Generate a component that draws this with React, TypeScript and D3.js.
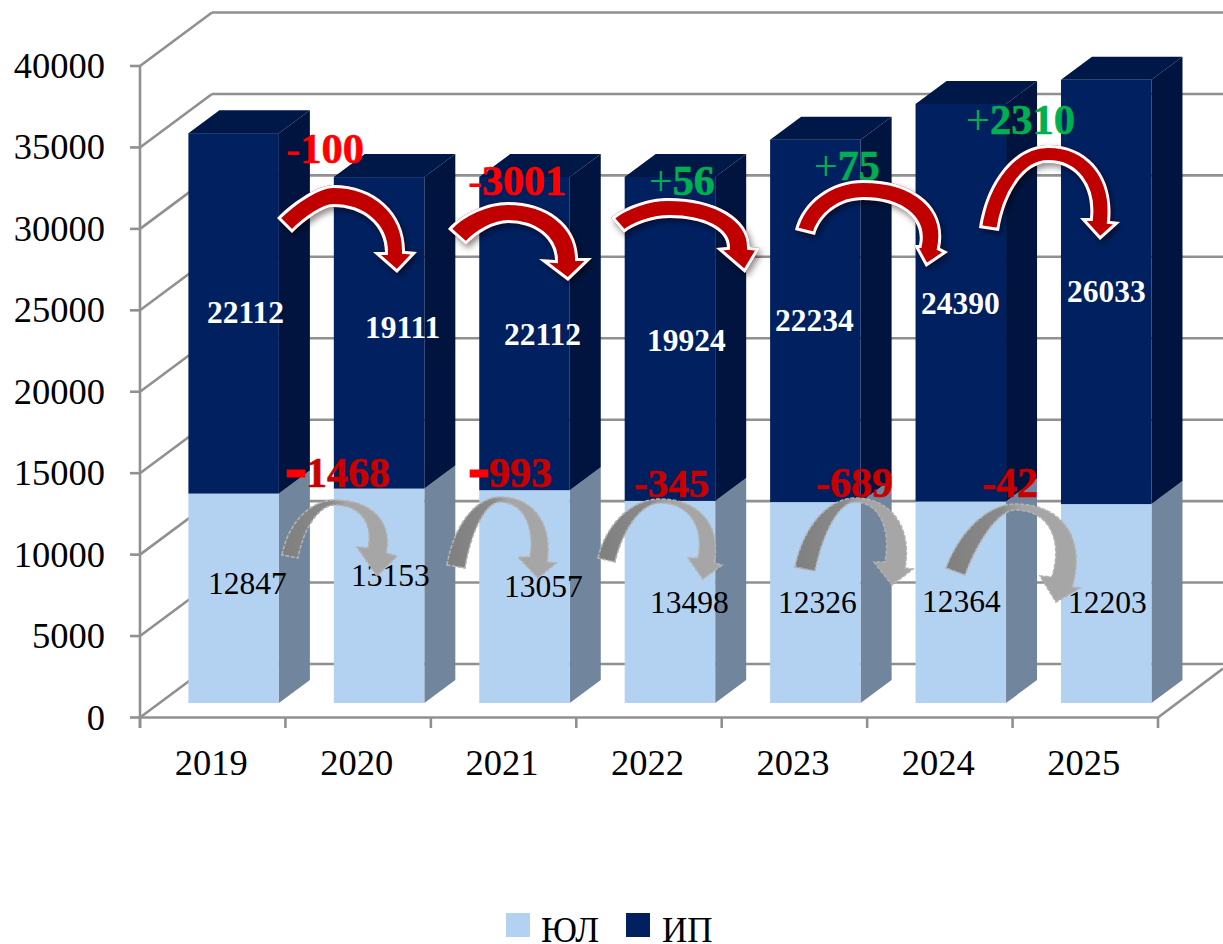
import React from 'react';
import * as d3 from 'd3';

// ---------- data ----------
const years = ['2019', '2020', '2021', '2022', '2023', '2024', '2025'];
const yulValues = [12847, 13153, 13057, 12400, 12326, 12364, 12203];
const ipValues = [22112, 19111, 19213, 19870, 22234, 24390, 26033];
const yulLabels = ['12847', '13153', '13057', '13498', '12326', '12364', '12203'];
const ipLabels = ['22112', '19111', '22112', '19924', '22234', '24390', '26033'];
const yTicks = [0, 5000, 10000, 15000, 20000, 25000, 30000, 35000, 40000];
const ipChanges = ['-100', '-3001', '+56', '+75', '+2310'];
const yulChanges = ['-1468', '-993', '-345', '-689', '-42'];
const legendNames = ['ЮЛ', 'ИП'];

// ---------- layout ----------
const W = 1223;
const H = 944;
const SERIF = '"Liberation Serif", "Times New Roman", serif';
const axisLeft = 140;
const axisRight = 1158;
const wallDx = 72;
const wallDy = -53.5;
const barInset = 48.4;
const barWidth = 90.5;
const depthDx = 31;
const depthDy = -23;

const C = {
  grid: '#909090',
  lightFront: '#b3d1f0',
  lightSide: '#71859c',
  darkFront: '#002060',
  darkSide: '#00143f',
  darkTop: '#001848',
};

const yAxis = d3.scaleLinear().domain([0, 40000]).range([717.5, 66]);
const yBar = d3.scaleLinear().domain([0, 40000]).range([703, 51]);
const xBand = d3.scaleBand<string>().domain(years).range([axisLeft, axisRight]);

// text placement: [left x, baseline y]
const ipLabelPos = [[207, 323], [365, 338], [504, 345], [647, 351], [775, 331], [921, 314], [1067, 302]];
const yulLabelPos = [[208, 594], [351, 586], [504, 597], [650, 613], [778, 613], [922, 612], [1068, 613]];
const ipChangePos = [[286, 163, 42.5], [468, 195, 42], [649, 195, 42], [814, 180, 42], [966, 134, 42.5]];
const yulChangePos = [[286, 487, 42, 60], [469, 487, 42, 60], [634, 497, 41, 41], [816, 497, 42, 42], [982, 497, 42, 42]];

// ---------- curved arrows (annotation shapes) ----------
type P = [number, number];
type Arrow = { tail: [P, P]; apex: [P, P]; end: [P, P]; wings: [P, P]; tip: P };

const redArrows: Arrow[] = [
  { tail: [[277, 218], [292, 233]], apex: [[333, 185], [333, 207]], end: [[405, 251], [385, 252]], wings: [[373, 252], [417, 252]], tip: [397, 273] },
  { tail: [[448, 229], [466, 245]], apex: [[508, 202], [508, 223]], end: [[578, 258], [555, 260]], wings: [[539, 259], [592, 258]], tip: [568, 281] },
  { tail: [[611, 218], [624, 233]], apex: [[668, 198], [670, 218]], end: [[750, 247], [727, 247]], wings: [[716, 248], [760, 248]], tip: [745, 273] },
  { tail: [[795, 230], [815, 235]], apex: [[863, 180], [863, 200]], end: [[940, 248], [919, 245]], wings: [[914, 245], [948, 252]], tip: [926, 267] },
  { tail: [[979, 228], [999, 231]], apex: [[1048, 145], [1048, 163]], end: [[1110, 221], [1090, 218]], wings: [[1080, 218], [1120, 222]], tip: [1100, 240] },
];
const greyArrows: Arrow[] = [
  { tail: [[282, 555], [298, 558]], apex: [[335, 500], [335, 505]], end: [[386, 553], [368, 548]], wings: [[357, 547], [397, 556]], tip: [377, 576] },
  { tail: [[447, 565], [465, 568]], apex: [[500, 497], [500, 502]], end: [[547, 562], [530, 557]], wings: [[518, 557], [556, 563]], tip: [538, 578] },
  { tail: [[598, 558], [615, 562]], apex: [[660, 499], [660, 503]], end: [[714, 563], [698, 558]], wings: [[688, 558], [722, 565]], tip: [703, 579] },
  { tail: [[795, 567], [815, 571]], apex: [[855, 498], [855, 502]], end: [[905, 568], [885, 562]], wings: [[874, 562], [913, 569]], tip: [892, 585] },
  { tail: [[946, 568], [965, 575]], apex: [[1015, 504], [1015, 510]], end: [[1072, 587], [1052, 577]], wings: [[1040, 576], [1080, 588]], tip: [1056, 602] },
];

function arrowPath(a: Arrow): string {
  const mid = (p: [P, P]): P => [(p[0][0] + p[1][0]) / 2, (p[0][1] + p[1][1]) / 2];
  const perp = (p: [P, P], toward: P): P => {
    const dx = p[1][0] - p[0][0];
    const dy = p[1][1] - p[0][1];
    const l = Math.hypot(dx, dy) || 1;
    let n: P = [-dy / l, dx / l];
    const m = mid(p);
    if (n[0] * (toward[0] - m[0]) + n[1] * (toward[1] - m[1]) < 0) n = [-n[0], -n[1]];
    return n;
  };
  const tailDir = perp(a.tail, a.apex[0]);
  const endDir = perp(a.wings, a.tip);
  const K = 0.58;
  // conic-like arc: both control points lie toward the crossing of the two end tangents
  const seg = (pth: d3.Path, from: P, d0: P, to: P, d1: P) => {
    const det = d0[0] * d1[1] - d0[1] * d1[0];
    const rx = to[0] - from[0];
    const ry = to[1] - from[1];
    const t = Math.abs(det) > 1e-3 ? (rx * d1[1] - ry * d1[0]) / det : Math.hypot(rx, ry) / 2;
    const ix = from[0] + d0[0] * t;
    const iy = from[1] + d0[1] * t;
    pth.bezierCurveTo(
      from[0] + (ix - from[0]) * K,
      from[1] + (iy - from[1]) * K,
      to[0] + (ix - to[0]) * K,
      to[1] + (iy - to[1]) * K,
      to[0],
      to[1],
    );
  };
  const pth = d3.path();
  pth.moveTo(a.tail[0][0], a.tail[0][1]);
  seg(pth, a.tail[0], tailDir, a.apex[0], [1, 0]);
  seg(pth, a.apex[0], [1, 0], a.end[0], endDir);
  pth.lineTo(a.wings[1][0], a.wings[1][1]);
  pth.lineTo(a.tip[0], a.tip[1]);
  pth.lineTo(a.wings[0][0], a.wings[0][1]);
  pth.lineTo(a.end[1][0], a.end[1][1]);
  seg(pth, a.end[1], [-endDir[0], -endDir[1]], a.apex[1], [-1, 0]);
  seg(pth, a.apex[1], [-1, 0], a.tail[1], [-tailDir[0], -tailDir[1]]);
  pth.closePath();
  return pth.toString();
}

export default function App() {
  const bars = years.map((yr, i) => {
    const x = (xBand(yr) as number) + barInset;
    const yBase = yBar(0);
    const y1 = yBar(yulValues[i]);
    const y2 = yBar(yulValues[i] + ipValues[i]);
    const xr = x + barWidth;
    const poly = (pts: P[]) => pts.map((p) => p.join(',')).join(' ');
    return (
      <g key={yr}>
        <polygon points={poly([[xr, yBase], [xr + depthDx, yBase + depthDy], [xr + depthDx, y1 + depthDy], [xr, y1]])} fill={C.lightSide} />
        <rect x={x} y={y1} width={barWidth} height={yBase - y1} fill={C.lightFront} />
        <polygon points={poly([[xr, y1], [xr + depthDx, y1 + depthDy], [xr + depthDx, y2 + depthDy], [xr, y2]])} fill={C.darkSide} />
        <rect x={x} y={y2} width={barWidth} height={y1 - y2} fill={C.darkFront} />
        <polygon points={poly([[x, y2], [x + depthDx, y2 + depthDy], [xr + depthDx, y2 + depthDy], [xr, y2]])} fill={C.darkTop} />
      </g>
    );
  });

  const tickXs = years.map((yr) => xBand(yr) as number).concat(axisRight);

  return (
    <svg
      width={W}
      height={H}
      viewBox={`0 0 ${W} ${H}`}
      style={{ position: 'absolute', left: 0, top: 0, display: 'block', background: '#fff' }}
      fontFamily={SERIF}
    >
      <defs>
        <filter id="shadow" x="-20%" y="-20%" width="150%" height="150%">
          <feDropShadow dx="2.5" dy="3.5" stdDeviation="3" floodColor="#000" floodOpacity="0.45" />
        </filter>
        <linearGradient id="greyFill" x1="0" y1="0" x2="1" y2="0">
          <stop offset="0" stopColor="#7f7f7f" />
          <stop offset="0.42" stopColor="#8a8a8a" />
          <stop offset="0.56" stopColor="#a5a5a5" />
          <stop offset="1" stopColor="#a6a6a6" />
        </linearGradient>
        {redArrows.map((a, i) => (
          <clipPath key={i} id={`redClip${i}`}>
            <path d={arrowPath(a)} />
          </clipPath>
        ))}
      </defs>

      {/* walls and floor */}
      <g stroke={C.grid} strokeWidth={2.6} fill="none">
        {yTicks.map((t) => {
          const y = yAxis(t);
          return (
            <g key={t}>
              <line x1={axisLeft - 10} x2={axisLeft} y1={y} y2={y} />
              <line x1={axisLeft} y1={y} x2={axisLeft + wallDx} y2={y + wallDy} />
              <line x1={axisLeft + wallDx} y1={y + wallDy} x2={W} y2={y + wallDy} />
            </g>
          );
        })}
        <line x1={axisLeft} x2={axisLeft} y1={yAxis(40000)} y2={728} />
        <line x1={axisLeft} x2={axisRight} y1={yAxis(0)} y2={yAxis(0)} />
        <line x1={axisRight} y1={yAxis(0)} x2={W} y2={yAxis(0) - 49} />
        {tickXs.map((x) => (
          <line key={x} x1={x} x2={x} y1={yAxis(0)} y2={728} />
        ))}
      </g>

      {bars}

      {/* axis labels */}
      <g fontSize={36.5} fill="#000">
        {yTicks.map((t) => (
          <text key={t} x={105} y={yAxis(t) + 12} textAnchor="end">{t}</text>
        ))}
        {years.map((yr) => (
          <text key={yr} x={(xBand(yr) as number) + xBand.bandwidth() / 2 - 1.5} y={775} textAnchor="middle">{yr}</text>
        ))}
      </g>

      {/* data labels */}
      <g fontSize={31.5} fontWeight={700} fill="#fff">
        {ipLabels.map((s, i) => (
          <text key={i} x={ipLabelPos[i][0]} y={ipLabelPos[i][1]}>{s}</text>
        ))}
      </g>
      <g fontSize={31.5} fill="#000">
        {yulLabels.map((s, i) => (
          <text key={i} x={yulLabelPos[i][0]} y={yulLabelPos[i][1]}>{s}</text>
        ))}
      </g>

      {/* change labels */}
      <g fontWeight={700}>
        {ipChanges.map((s, i) => {
          const col = s[0] === '+' ? '#00b050' : '#ff0000';
          return (
            <text key={i} x={ipChangePos[i][0]} y={ipChangePos[i][1]} fontSize={ipChangePos[i][2]} fill={col}>
              <tspan fontWeight={s[0] === '+' ? 400 : 700}>{s[0]}</tspan>
              <tspan stroke={col} strokeWidth={0.6}>{s.slice(1)}</tspan>
            </text>
          );
        })}
        {yulChanges.map((s, i) => (
          <text key={i} x={yulChangePos[i][0]} y={yulChangePos[i][1]} fontSize={yulChangePos[i][2]} fill="#c80000">
            <tspan
              fontSize={yulChangePos[i][3]}
              fill={i < 2 ? '#ff0000' : '#c80000'}
              stroke={i < 2 ? '#ff0000' : '#c80000'}
              strokeWidth={i < 2 ? 3 : 0.6}
            >
              {s[0]}
            </tspan>
            <tspan stroke="#c80000" strokeWidth={0.6}>{s.slice(1)}</tspan>
          </text>
        ))}
      </g>

      {/* grey arrows */}
      {greyArrows.map((a, i) => (
        <path key={i} d={arrowPath(a)} fill="url(#greyFill)" stroke="#b2b2b2" strokeWidth={1.6} strokeDasharray="4 1.5" />
      ))}

      {/* red arrows */}
      {redArrows.map((a, i) => {
        const d = arrowPath(a);
        return (
          <g key={i}>
            <path d={d} fill="#c00000" filter="url(#shadow)" />
            <path d={d} fill="none" stroke="#fff" strokeWidth={6} clipPath={`url(#redClip${i})`} />
          </g>
        );
      })}

      {/* legend */}
      <rect x={506} y={913} width={24} height={24} fill={C.lightFront} />
      <text x={541} y={942} fontSize={35}>{legendNames[0]}</text>
      <rect x={626} y={913} width={24} height={24} fill={C.darkFront} />
      <text x={662} y={942} fontSize={35}>{legendNames[1]}</text>
    </svg>
  );
}
